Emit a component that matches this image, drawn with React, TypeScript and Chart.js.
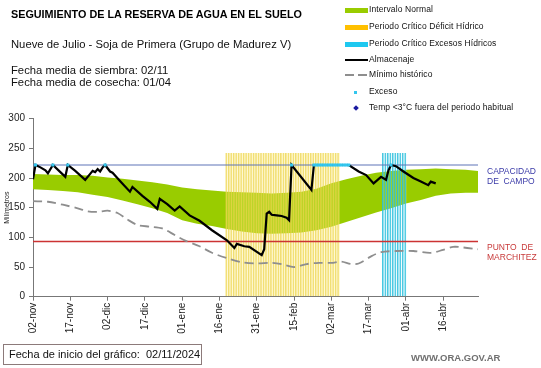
import React, { useEffect, useRef } from 'react';
import { Chart, registerables } from 'chart.js';
Chart.register(...registerables);

// X axis: days since 02-nov-2024 (0 .. 179 = 30-abr)
const tickLabels = ['02-nov', '17-nov', '02-dic', '17-dic', '01-ene', '16-ene', '31-ene', '15-feb', '02-mar', '17-mar', '01-abr', '16-abr'];
const lastDay = 179;

// Intervalo normal (band)
const bandDays = [0, 6, 12, 18, 24, 30, 36, 42, 48, 54, 60, 66, 72, 78, 84, 90, 96, 102, 108, 114, 120, 126, 132, 138, 144, 150, 156, 162, 168, 174, 179];
const bandUpper = [207, 206, 205, 205, 204, 201, 199, 196, 193, 189, 184, 181, 179, 177, 176, 175, 174, 175, 177, 182, 191, 198, 204, 209, 212, 214, 215, 216, 215, 214, 212];
const bandLower = [181, 180, 178, 176, 172, 168, 162, 156, 149, 141, 129, 123, 119, 114, 110, 107, 106, 107, 108, 112, 118, 126, 134, 142, 149, 157, 163, 170, 174, 175, 175];

// Mínimo histórico
const minDays = [0, 6, 12, 18, 22, 26, 30, 34, 38, 42, 47, 52, 57, 61, 67, 72, 78, 84, 90, 96, 100, 105, 110, 115, 120, 124, 128, 131, 136, 140, 146, 153, 160, 165, 169, 173, 179];
const minValues = [161, 160, 155, 149, 144, 143, 145, 141, 130, 121, 118, 115, 104, 95, 85, 74, 65, 58, 56, 57, 55, 50, 55, 57, 57, 59, 55, 56, 68, 75, 77, 77, 74, 79, 84, 83, 80];

// Almacenaje
const storageDays = [0, 1, 3, 5, 6, 8, 11, 13, 14, 17, 21, 23, 24, 25, 26, 27, 28, 29, 31, 32, 35, 39, 40, 44, 47, 50, 51, 54, 57, 59, 63, 67, 72, 78, 81, 82, 85, 87, 92, 93, 94, 95, 96, 98, 100, 102, 103, 104, 112, 113, 127, 131, 134, 137, 140, 142, 143, 144, 146, 149, 153, 156, 159, 160, 162];
const storageValues = [198, 222, 218, 213, 208, 222, 210, 202, 222, 212, 197, 207, 212, 210, 215, 211, 218, 222, 211, 209, 195, 177, 185, 170, 160, 148, 165, 156, 145, 152, 137, 128, 112, 95, 82, 89, 85, 84, 70, 80, 140, 143, 138, 137, 136, 133, 129, 222, 180, 222, 222, 211, 205, 191, 202, 197, 213, 222, 220, 211, 200, 194, 188, 194, 191];

// Exceso
const excesoDays = [1, 8, 14, 29, 104, 113, 114, 115, 116, 117, 118, 119, 120, 121, 122, 123, 124, 125, 126, 127, 144];
const excesoValue = 222;

// Periodos críticos
const deficitStart = 78;
const deficitEnd = 123;
const excesosStart = 141;
const excesosEnd = 150;
const criticalTop = 242;

// Reference lines
const capacidadCampo = 222;
const puntoMarchitez = 93;

const FONT = "'Liberation Sans', Arial, sans-serif";

function span(a: number, b: number, v: number) {
  const out: { x: number; y: number }[] = [];
  for (let d = a; d <= b; d++) out.push({ x: d, y: v });
  return out;
}
const pts = (xs: number[], ys: number[]) => xs.map((x, i) => ({ x, y: ys[i] }));

function ChartCanvas() {
  const ref = useRef<HTMLCanvasElement | null>(null);
  useEffect(() => {
    if (!ref.current) return;
    const chart = new Chart(ref.current, {
      type: 'bar',
      data: {
        datasets: [
          {
            type: 'line',
            label: 'upper',
            data: pts(bandDays, bandUpper),
            borderWidth: 0,
            borderColor: 'rgba(0,0,0,0)',
            backgroundColor: '#99cc00',
            pointRadius: 0,
            fill: '+1',
            order: 10,
          } as any,
          {
            type: 'line',
            label: 'lower',
            data: pts(bandDays, bandLower),
            borderWidth: 0,
            borderColor: 'rgba(0,0,0,0)',
            pointRadius: 0,
            fill: false,
            order: 10,
          } as any,
          {
            type: 'bar',
            label: 'deficit',
            data: span(deficitStart, deficitEnd, criticalTop),
            backgroundColor: 'rgba(255,238,130,0.3)',
            borderColor: 'rgba(235,210,70,0.75)',
            borderWidth: { left: 1, right: 0, top: 0, bottom: 0 },
            barPercentage: 1,
            categoryPercentage: 1,
            grouped: false,
            order: 8,
          } as any,
          {
            type: 'bar',
            label: 'excesos',
            data: span(excesosStart, excesosEnd, criticalTop),
            backgroundColor: 'rgba(200,242,252,0.15)',
            borderColor: 'rgba(40,190,220,0.85)',
            borderWidth: { left: 1, right: 0, top: 0, bottom: 0 },
            barPercentage: 1,
            categoryPercentage: 1,
            grouped: false,
            order: 8,
          } as any,
          {
            type: 'line',
            label: 'cc',
            data: [{ x: 0, y: capacidadCampo }, { x: lastDay, y: capacidadCampo }],
            borderColor: '#5f74b8',
            backgroundColor: '#5f74b8',
            borderWidth: 1.2,
            pointRadius: 0,
            fill: false,
            order: 6,
          } as any,
          {
            type: 'line',
            label: 'pm',
            data: [{ x: 0, y: puntoMarchitez }, { x: lastDay, y: puntoMarchitez }],
            borderColor: '#cc3333',
            backgroundColor: '#cc3333',
            borderWidth: 1.4,
            pointRadius: 0,
            fill: false,
            order: 6,
          } as any,
          {
            type: 'line',
            label: 'min',
            data: pts(minDays, minValues),
            borderColor: '#8e8e8e',
            borderWidth: 1.8,
            borderDash: [9, 5],
            pointRadius: 0,
            fill: false,
            tension: 0.3,
            order: 5,
          } as any,
          {
            type: 'line',
            label: 'Almacenaje',
            data: pts(storageDays, storageValues),
            borderColor: '#000000',
            borderWidth: 2.2,
            pointRadius: 0,
            fill: false,
            order: 2,
          } as any,
          {
            type: 'line',
            label: 'Exceso',
            data: excesoDays.map((d) => ({ x: d, y: excesoValue })),
            showLine: false,
            pointStyle: 'rect',
            pointRadius: 2.2,
            pointBorderWidth: 0,
            pointBackgroundColor: '#33c6ee',
            borderColor: '#33c6ee',
            order: 1,
          } as any,
        ],
      },
      options: {
        responsive: false,
        animation: false,
        devicePixelRatio: 1,
        layout: { padding: { top: 118.7, right: 63, left: 0, bottom: 0 } },
        plugins: { legend: { display: false }, tooltip: { enabled: false } },
        scales: {
          x: {
            type: 'linear',
            min: 0,
            max: lastDay,
            offset: false,
            afterFit: (s: any) => { s.height = 368 - 296.7; },
            grid: { drawOnChartArea: false, drawTicks: true, tickLength: 4, color: '#777', offset: false },
            border: { display: true, color: '#777', width: 1 },
            ticks: {
              stepSize: 15,
              includeBounds: false,
              autoSkip: false,
              minRotation: 90,
              maxRotation: 90,
              padding: 2,
              color: '#222',
              font: { family: FONT, size: 10 },
              callback: (v: any) => tickLabels[Math.round(Number(v) / 15)] ?? '',
            },
          },
          y: {
            type: 'linear',
            min: 0,
            max: 300,
            afterFit: (s: any) => { s.width = 33; },
            grid: { drawOnChartArea: false, drawTicks: true, tickLength: 4, color: '#777' },
            border: { display: true, color: '#777', width: 1 },
            title: { display: true, text: 'Milímetros', color: '#222', font: { family: FONT, size: 7 }, padding: { top: 3, bottom: 0 } },
            ticks: { stepSize: 50, padding: 4, color: '#222', font: { family: FONT, size: 10 } },
          },
        },
      } as any,
    });
    return () => chart.destroy();
  }, []);
  return <canvas ref={ref} width={541} height={368} style={{ position: 'absolute', left: 0, top: 0, width: 541, height: 368 }} />;
}

const abs = (left: number, top: number, extra: React.CSSProperties = {}): React.CSSProperties => ({
  position: 'absolute', left, top, whiteSpace: 'nowrap', fontFamily: FONT, lineHeight: 1, ...extra,
});

function LegendRow({ top, swatch, text }: { top: number; swatch: React.ReactNode; text: string }) {
  return (
    <>
      <div style={{ position: 'absolute', left: 345, top: top - 4, width: 24, height: 8 }}>{swatch}</div>
      <div style={abs(369, top - 5, { fontSize: 8.5, color: '#111', letterSpacing: 0.1 })}>{text}</div>
    </>
  );
}

export default function App() {
  return (
    <div style={{ position: 'absolute', left: 0, top: 0, width: 541, height: 368, background: '#fff', overflow: 'hidden' }}>
      <ChartCanvas />
      <div style={abs(11, 9, { fontSize: 10.8, fontWeight: 'bold', color: '#000' })}>SEGUIMIENTO DE LA RESERVA DE AGUA EN EL SUELO</div>
      <div style={abs(11, 39, { fontSize: 11.25, color: '#111' })}>Nueve de Julio - Soja de Primera (Grupo de Madurez V)</div>
      <div style={abs(11, 65, { fontSize: 11.25, color: '#111' })}>Fecha media de siembra: 02/11</div>
      <div style={abs(11, 77, { fontSize: 11.25, color: '#111' })}>Fecha media de cosecha: 01/04</div>

      <LegendRow top={10} text="Intervalo Normal" swatch={<div style={{ position: 'absolute', left: 0, top: 1.5, width: 23, height: 5, background: '#99cc00' }} />} />
      <LegendRow top={27} text="Periodo Crítico Déficit Hídrico" swatch={<div style={{ position: 'absolute', left: 0, top: 1.5, width: 23, height: 5, background: '#ffc000' }} />} />
      <LegendRow top={44} text="Periodo Crítico Excesos Hídricos" swatch={<div style={{ position: 'absolute', left: 0, top: 1.5, width: 23, height: 5, background: '#1ec8f0' }} />} />
      <LegendRow top={60} text="Almacenaje" swatch={<div style={{ position: 'absolute', left: 0, top: 3, width: 23, height: 2, background: '#000' }} />} />
      <LegendRow top={75} text="Mínimo histórico" swatch={<>
        <div style={{ position: 'absolute', left: 0, top: 3, width: 9, height: 2, background: '#8e8e8e' }} />
        <div style={{ position: 'absolute', left: 13, top: 3, width: 9, height: 2, background: '#8e8e8e' }} />
      </>} />
      <LegendRow top={92} text="Exceso" swatch={<div style={{ position: 'absolute', left: 9, top: 2.5, width: 3, height: 3, background: '#33c6ee' }} />} />
      <LegendRow top={108} text="Temp <3°C fuera del periodo habitual" swatch={<div style={{ position: 'absolute', left: 8.5, top: 2, width: 4, height: 4, background: '#1a1aa0', transform: 'rotate(45deg)' }} />} />

      <div style={abs(487, 166, { fontSize: 8.5, color: '#3a3aa8', lineHeight: '10px' })}>CAPACIDAD<br />DE&nbsp; CAMPO</div>
      <div style={abs(487, 242, { fontSize: 8.5, color: '#c83a3a', lineHeight: '10px' })}>PUNTO&nbsp; DE<br />MARCHITEZ</div>

      <div style={{ position: 'absolute', left: 3, top: 344, width: 199, height: 21, border: '1px solid #8c7a7a', boxSizing: 'border-box' }} />
      <div style={abs(9, 349, { fontSize: 11, color: '#111' })}>Fecha de inicio del gráfico:&nbsp; 02/11/2024</div>
      <div style={abs(411, 353, { fontSize: 9.5, color: '#707070', fontWeight: 'bold' })}>WWW.ORA.GOV.AR</div>
    </div>
  );
}
